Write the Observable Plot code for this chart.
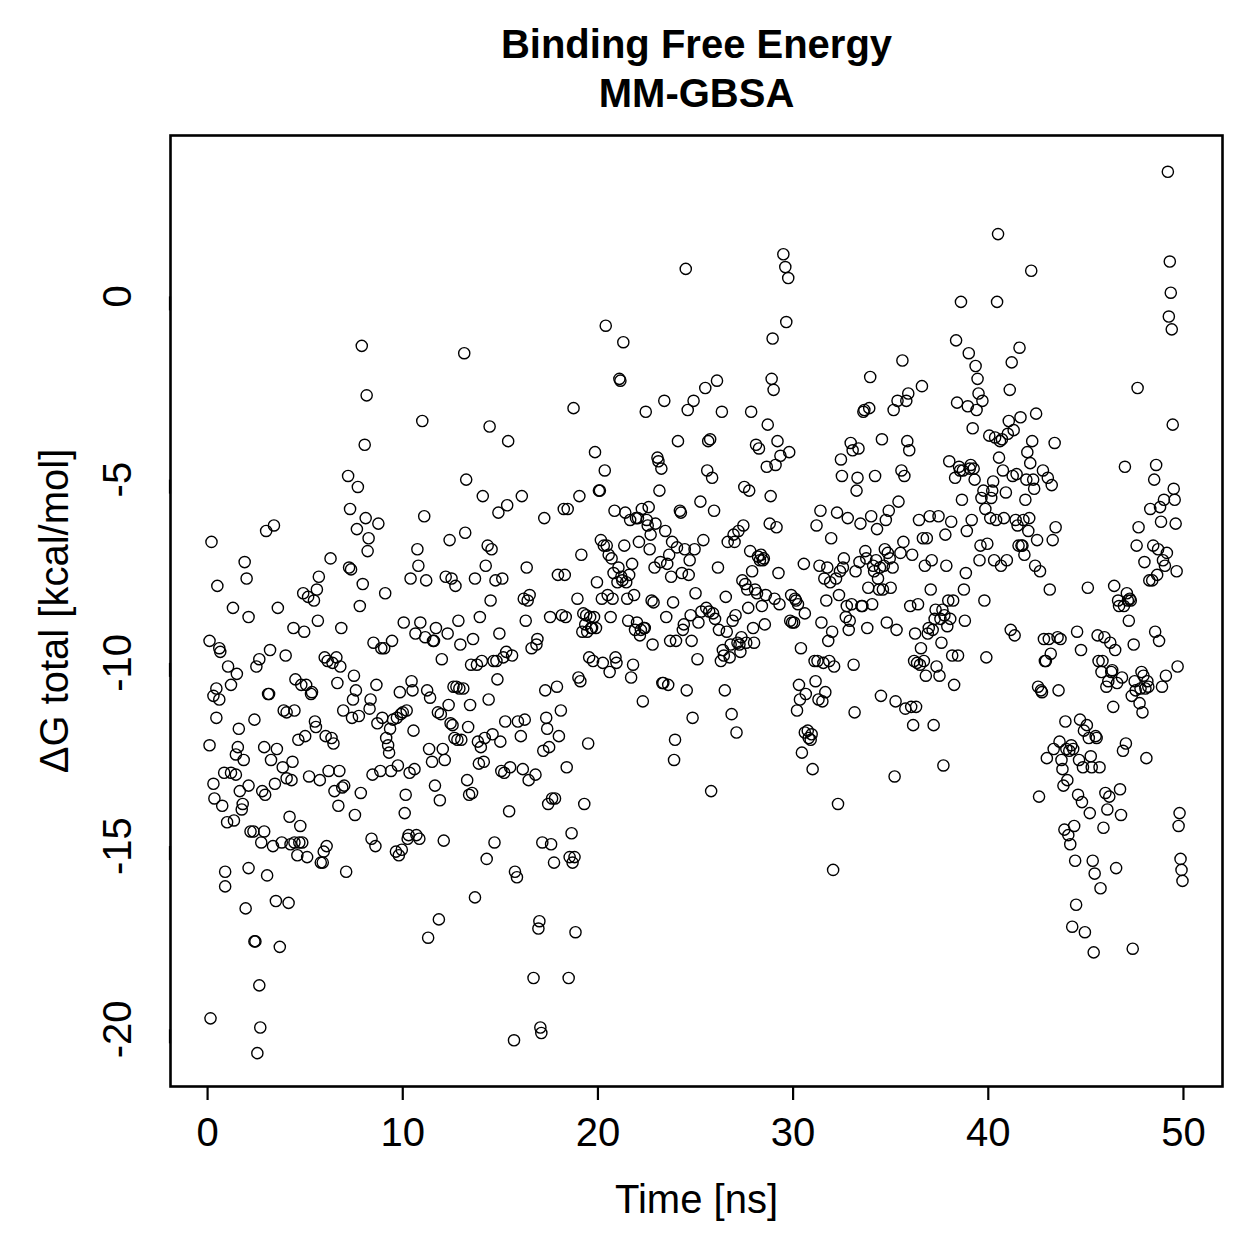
<!DOCTYPE html>
<html>
<head>
<meta charset="utf-8">
<script src="https://cdn.jsdelivr.net/npm/d3@7"></script>
<script src="https://cdn.jsdelivr.net/npm/@observablehq/plot@0.6"></script>
<style>
  html, body { margin: 0; padding: 0; background: #ffffff; }
  #chart { width: 1259px; height: 1259px; }
</style>
</head>
<body>
<div id="chart"></div>
<script>
// MM-GBSA total binding free energy per snapshot: [time (ns), ΔG total (kcal/mol)]
const run0to10 = [
  [0.1,-9.4],[0.2,-6.7],[0.1,-12.25],[0.15,-19.7],[0.3,-10.9],[0.3,-13.3],[0.35,-13.7],[0.5,-7.9],[0.45,-10.7],[0.45,-11.5],
  [0.6,-9.6],[0.65,-9.7],[0.6,-11.0],[0.75,-13.9],[0.85,-13.0],[0.9,-15.7],[0.9,-16.1],[1.0,-14.35],[1.05,-10.1],[1.2,-10.6],
  [1.3,-8.5],[1.2,-13.0],[1.35,-14.3],[1.45,-12.5],[1.45,-13.05],[1.55,-12.3],[1.6,-11.8],[1.5,-10.3],[1.65,-13.5],[1.75,-14.0],
  [1.8,-13.85],[1.85,-12.65],[1.9,-7.25],[1.95,-16.7],[2.0,-7.7],[2.1,-8.75],[2.1,-15.6],[2.1,-13.35],[2.2,-14.6],[2.35,-14.6],
  [2.4,-17.6],[2.45,-17.6],[2.4,-11.55],[2.5,-10.1],[2.55,-20.65],[2.65,-18.8],[2.7,-19.95],[2.65,-9.9],[2.75,-14.9],[2.8,-13.5],
  [2.9,-12.3],[2.95,-13.6],[2.9,-14.6],[3.0,-6.4],[3.05,-15.8],[3.1,-10.85],[3.15,-10.85],[3.2,-9.65],[3.25,-12.65],[3.35,-15.0],
  [3.4,-6.25],[3.45,-13.3],[3.5,-16.5],[3.55,-12.35],[3.6,-8.5],[3.7,-17.75],[3.8,-14.9],[3.85,-12.85],[3.9,-11.3],[4.0,-9.8],
  [4.05,-11.35],[4.05,-13.15],[4.15,-16.55],[4.2,-14.2],[4.25,-14.95],[4.3,-13.2],[4.35,-12.7],[4.4,-9.05],[4.45,-14.9],[4.45,-11.3],
  [4.5,-10.45],[4.6,-15.25],[4.65,-12.1],[4.7,-14.9],[4.75,-14.45],[4.8,-10.6],[4.85,-14.9],[4.9,-8.1],[4.95,-9.15],[5.0,-12.0],
  [5.05,-10.6],[5.1,-15.3],[5.15,-8.2],[5.2,-13.1],[5.3,-10.85],[5.35,-10.8],[5.45,-8.3],[5.5,-11.6],[5.55,-11.75],[5.6,-8.0],
  [5.65,-8.85],[5.7,-7.65],[5.75,-13.2],[5.8,-15.45],[5.9,-15.45],[5.95,-15.15],[6.0,-9.85],[6.05,-12.0],[6.1,-15.0],[6.15,-9.95],
  [6.2,-12.95],[6.3,-7.15],[6.35,-12.05],[6.4,-10.0],[6.45,-12.2],[6.5,-13.5],[6.6,-9.85],[6.65,-10.55],[6.7,-13.9],[6.75,-12.95],
  [6.8,-10.1],[6.85,-9.05],[6.9,-13.4],[6.95,-11.3],[7.0,-13.35],[7.1,-15.7],[7.2,-4.9],[7.25,-7.4],[7.3,-5.8],[7.35,-7.45],
  [7.4,-11.5],[7.45,-11.0],[7.5,-10.35],[7.55,-14.15],[7.6,-10.75],[7.65,-6.35],[7.7,-5.2],[7.75,-11.45],[7.8,-8.45],[7.85,-13.55],
  [7.9,-1.35],[7.95,-7.85],[8.05,-4.05],[8.1,-6.05],[8.15,-2.7],[8.2,-6.95],[8.25,-6.6],[8.3,-11.25],[8.35,-11.0],[8.4,-14.8],
  [8.45,-13.05],[8.5,-9.45],[8.6,-15.0],[8.65,-10.6],[8.7,-11.65],[8.75,-6.2],[8.85,-12.95],[8.9,-9.6],[8.95,-11.5],[9.05,-9.6],
  [9.1,-8.1],[9.15,-12.05],[9.25,-12.25],[9.3,-12.45],[9.35,-11.8],[9.4,-12.95],[9.45,-9.4],[9.5,-11.55],[9.65,-15.15],[9.7,-11.5],
  [9.75,-12.8],[9.8,-15.25],[9.85,-10.8],[9.9,-11.4],[9.95,-15.1]
];
const run10to20 = [
  [10.0,-11.35],[10.05,-8.9],[10.1,-14.1],[10.15,-13.6],[10.2,-11.3],[10.25,-14.8],[10.3,-14.7],[10.35,-13.0],[10.4,-7.7],[10.45,-10.5],
  [10.5,-10.75],[10.55,-11.85],[10.6,-12.9],[10.65,-9.2],[10.7,-14.7],[10.75,-6.9],[10.8,-7.35],[10.85,-14.8],[10.9,-8.9],[11.0,-3.4],
  [11.1,-6.0],[11.15,-9.3],[11.2,-7.75],[11.25,-10.75],[11.3,-17.5],[11.35,-12.35],[11.4,-10.95],[11.5,-12.7],[11.55,-9.4],[11.6,-9.4],
  [11.65,-13.35],[11.7,-9.05],[11.8,-11.35],[11.85,-17.0],[11.9,-13.75],[11.95,-11.4],[12.0,-9.9],[12.05,-12.35],[12.1,-14.85],[12.15,-12.65],
  [12.2,-7.65],[12.3,-9.2],[12.35,-11.15],[12.4,-6.65],[12.45,-11.65],[12.5,-7.7],[12.55,-11.7],[12.6,-10.65],[12.65,-12.05],[12.7,-7.9],
  [12.75,-10.65],[12.8,-12.1],[12.85,-8.85],[12.9,-10.7],[12.95,-9.5],[13.0,-12.1],[13.1,-10.7],[13.15,-1.55],[13.2,-6.45],[13.25,-5.0],
  [13.3,-13.2],[13.35,-11.75],[13.4,-13.6],[13.45,-11.15],[13.5,-10.05],[13.55,-13.55],[13.6,-9.35],[13.7,-16.4],[13.7,-7.7],[13.8,-10.05],
  [13.85,-12.15],[13.9,-12.75],[13.95,-8.75],[14.0,-12.3],[14.05,-9.95],[14.1,-5.45],[14.15,-12.7],[14.2,-12.05],[14.25,-7.35],[14.3,-15.35],
  [14.35,-6.8],[14.4,-11.0],[14.45,-3.55],[14.5,-8.3],[14.55,-6.9],[14.6,-11.95],[14.65,-9.95],[14.7,-14.9],[14.75,-7.75],[14.8,-9.95],
  [14.85,-10.45],[14.9,-5.9],[14.95,-9.2],[15.0,-12.15],[15.05,-12.95],[15.1,-7.7],[15.15,-9.85],[15.2,-13.0],[15.25,-11.6],[15.3,-9.7],
  [15.35,-5.7],[15.4,-3.95],[15.45,-14.05],[15.5,-12.85],[15.6,-9.8],[15.7,-20.3],[15.75,-15.7],[15.85,-15.85],[15.9,-11.6],[16.05,-12.0],
  [16.1,-5.45],[16.15,-12.9],[16.2,-8.25],[16.25,-11.55],[16.3,-8.85],[16.35,-7.4],[16.4,-8.3],[16.45,-13.2],[16.5,-8.15],[16.6,-9.6],
  [16.7,-18.6],[16.8,-13.05],[16.85,-9.5],[16.9,-9.35],[16.95,-17.25],[17.0,-17.05],[17.05,-19.95],[17.1,-20.1],[17.15,-14.9],[17.2,-12.4],
  [17.25,-6.05],[17.3,-10.75],[17.35,-11.5],[17.4,-11.8],[17.45,-13.85],[17.5,-12.3],[17.55,-8.75],[17.6,-14.95],[17.65,-13.7],[17.75,-15.45],
  [17.8,-13.7],[17.9,-10.65],[17.95,-7.6],[18.0,-12.0],[18.1,-11.3],[18.15,-8.7],[18.25,-5.8],[18.3,-7.6],[18.35,-8.75],[18.4,-12.85],
  [18.45,-5.8],[18.5,-18.6],[18.55,-15.3],[18.65,-14.65],[18.7,-15.45],[18.75,-3.05],[18.8,-15.3],[18.85,-17.35],[18.95,-8.25],[19.0,-10.4],
  [19.05,-5.45],[19.1,-10.5],[19.15,-7.05],[19.2,-9.15],[19.25,-8.65],[19.3,-13.85],[19.35,-8.95],[19.4,-8.7],[19.45,-9.15],[19.5,-12.2],
  [19.55,-9.85],[19.6,-8.75],[19.65,-9.05],[19.7,-9.05],[19.75,-9.95],[19.8,-8.75],[19.85,-4.25],[19.9,-9.05],[19.95,-7.8]
];
const run20to30 = [
  [20.05,-5.3],[20.1,-5.3],[20.15,-6.65],[20.2,-8.25],[20.25,-10.0],[20.3,-6.8],[20.35,-4.75],[20.4,-0.8],[20.45,-6.8],[20.5,-8.15],
  [20.55,-7.05],[20.6,-10.25],[20.65,-8.75],[20.7,-7.15],[20.75,-8.25],[20.8,-7.55],[20.85,-5.85],[20.9,-9.85],[20.95,-10.0],[21.0,-7.8],
  [21.05,-7.4],[21.1,-2.25],[21.15,-2.3],[21.2,-7.65],[21.25,-7.75],[21.3,-1.25],[21.35,-6.8],[21.4,-5.9],[21.45,-7.8],[21.5,-8.25],
  [21.55,-8.85],[21.6,-7.6],[21.65,-6.1],[21.7,-10.4],[21.75,-7.3],[21.8,-10.05],[21.85,-8.15],[21.9,-9.1],[21.95,-6.05],[22.0,-8.9],
  [22.05,-6.05],[22.1,-6.7],[22.15,-9.25],[22.2,-9.1],[22.25,-5.8],[22.3,-11.05],[22.35,-9.05],[22.4,-9.05],[22.45,-3.15],[22.5,-6.1],
  [22.55,-6.25],[22.6,-5.75],[22.65,-6.9],[22.7,-6.5],[22.75,-8.3],[22.8,-9.5],[22.85,-8.35],[22.9,-7.4],[22.95,-6.2],[23.05,-4.4],
  [23.1,-4.5],[23.15,-5.3],[23.2,-7.25],[23.25,-4.7],[23.3,-10.55],[23.35,-10.55],[23.4,-2.85],[23.45,-6.4],[23.5,-8.75],[23.55,-7.3],
  [23.6,-10.6],[23.65,-7.05],[23.7,-9.4],[23.75,-7.65],[23.8,-6.7],[23.85,-8.35],[23.9,-12.65],[23.95,-12.1],[24.0,-9.4],[24.05,-6.85],
  [24.1,-3.95],[24.2,-5.85],[24.25,-5.9],[24.3,-7.55],[24.35,-9.1],[24.4,-8.95],[24.45,-6.9],[24.5,0.75],[24.55,-10.75],[24.6,-3.1],
  [24.65,-7.6],[24.7,-7.2],[24.75,-8.7],[24.8,-9.4],[24.85,-11.5],[24.9,-2.85],[24.95,-6.9],[25.0,-8.1],[25.1,-9.9],[25.15,-8.9],
  [25.25,-5.6],[25.3,-8.6],[25.4,-6.65],[25.5,-2.5],[25.55,-8.5],[25.6,-4.75],[25.65,-3.95],[25.7,-8.6],[25.75,-3.9],[25.8,-13.5],
  [25.85,-4.95],[25.9,-8.65],[25.95,-5.85],[26.0,-8.8],[26.1,-2.3],[26.15,-7.4],[26.2,-9.1],[26.3,-9.95],[26.35,-3.15],[26.4,-9.65],
  [26.45,-9.8],[26.5,-10.75],[26.55,-8.2],[26.6,-9.15],[26.65,-6.7],[26.75,-9.85],[26.8,-9.5],[26.85,-11.4],[26.9,-8.85],[26.95,-6.5],
  [27.0,-6.7],[27.05,-8.7],[27.1,-11.9],[27.15,-9.45],[27.2,-6.4],[27.25,-9.5],[27.3,-9.7],[27.35,-9.3],[27.4,-7.75],[27.45,-6.25],
  [27.5,-5.2],[27.55,-7.85],[27.6,-9.45],[27.65,-8.0],[27.7,-8.5],[27.75,-5.3],[27.8,-6.95],[27.85,-3.15],[27.9,-7.5],[27.95,-9.05],
  [28.0,-9.45],[28.05,-8.0],[28.1,-4.05],[28.15,-8.1],[28.2,-7.1],[28.25,-4.15],[28.3,-7.2],[28.35,-7.05],[28.4,-8.45],[28.45,-7.2],
  [28.5,-7.15],[28.55,-8.95],[28.6,-8.15],[28.65,-4.65],[28.7,-3.5],[28.8,-6.2],[28.85,-5.45],[28.9,-2.25],[28.95,-1.15],[29.0,-2.55],
  [29.05,-8.25],[29.1,-4.6],[29.15,-6.3],[29.2,-3.95],[29.25,-7.55],[29.3,-8.4],[29.35,-4.35],[29.5,1.15],[29.6,0.8],[29.65,-0.7],
  [29.75,0.5],[29.8,-4.25],[29.85,-8.85],[29.9,-8.15],[29.95,-8.9]
];
const run30to40 = [
  [30.05,-8.9],[30.1,-8.25],[30.15,-8.3],[30.2,-11.3],[30.25,-8.4],[30.3,-10.6],[30.35,-11.0],[30.4,-9.6],[30.45,-12.45],[30.55,-7.3],
  [30.6,-8.65],[30.6,-11.9],[30.65,-10.85],[30.75,-11.85],[30.8,-12.05],[30.9,-12.1],[30.95,-11.95],[31.0,-12.9],[31.1,-9.95],[31.15,-10.5],
  [31.2,-6.25],[31.25,-9.95],[31.3,-11.0],[31.35,-7.35],[31.4,-5.85],[31.45,-8.9],[31.5,-11.05],[31.55,-10.0],[31.6,-7.7],[31.65,-10.8],
  [31.7,-8.3],[31.75,-7.4],[31.8,-9.4],[31.85,-9.95],[31.9,-7.8],[31.95,-6.6],[32.0,-9.15],[32.05,-15.65],[32.1,-10.1],[32.2,-7.7],
  [32.25,-5.9],[32.3,-13.85],[32.35,-8.15],[32.4,-7.5],[32.45,-4.45],[32.5,-4.9],[32.55,-7.4],[32.6,-7.15],[32.7,-8.75],[32.75,-8.45],
  [32.8,-6.05],[32.85,-9.1],[32.9,-8.85],[32.95,-4.0],[33.0,-8.4],[33.05,-4.2],[33.1,-10.05],[33.15,-11.35],[33.2,-7.5],[33.25,-5.3],
  [33.3,-4.95],[33.35,-4.15],[33.4,-7.25],[33.45,-6.2],[33.5,-8.45],[33.55,-8.45],[33.6,-3.15],[33.65,-3.1],[33.7,-6.95],[33.75,-7.15],
  [33.8,-9.05],[33.85,-7.95],[33.9,-3.05],[33.95,-2.2],[34.0,-6.0],[34.05,-8.4],[34.1,-7.35],[34.15,-7.5],[34.2,-4.9],[34.25,-7.2],
  [34.3,-6.35],[34.35,-7.7],[34.4,-8.0],[34.45,-7.4],[34.5,-10.9],[34.55,-3.9],[34.6,-8.0],[34.65,-7.35],[34.7,-6.9],[34.75,-6.1],
  [34.8,-8.9],[34.85,-7.0],[34.9,-5.85],[34.95,-7.15],[35.0,-7.95],[35.1,-7.4],[35.15,-3.1],[35.2,-13.1],[35.25,-11.05],[35.3,-9.1],
  [35.35,-2.85],[35.4,-5.6],[35.5,-7.0],[35.55,-4.75],[35.6,-1.75],[35.65,-6.7],[35.7,-4.9],[35.75,-11.25],[35.8,-2.85],[35.85,-3.95],
  [35.9,-2.65],[35.95,-4.2],[36.0,-8.45],[36.05,-11.2],[36.1,-7.05],[36.15,-11.7],[36.2,-9.95],[36.25,-9.2],[36.3,-11.2],[36.35,-10.0],
  [36.4,-8.4],[36.45,-6.1],[36.5,-10.05],[36.55,-9.6],[36.6,-2.45],[36.65,-6.6],[36.7,-9.95],[36.75,-7.35],[36.8,-10.35],[36.85,-6.6],
  [36.9,-9.2],[36.95,-9.05],[37.0,-6.0],[37.05,-8.0],[37.1,-7.2],[37.15,-9.1],[37.2,-11.7],[37.25,-8.8],[37.3,-8.55],[37.35,-10.1],
  [37.45,-6.0],[37.5,-10.35],[37.55,-8.8],[37.6,-9.45],[37.65,-8.55],[37.7,-12.8],[37.75,-8.7],[37.8,-6.5],[37.85,-7.35],[37.9,-9.0],
  [37.95,-8.3],[38.0,-4.5],[38.05,-8.8],[38.1,-6.15],[38.15,-9.8],[38.2,-8.3],[38.25,-10.6],[38.3,-4.95],[38.35,-1.2],[38.4,-2.9],
  [38.45,-9.8],[38.5,-4.65],[38.55,-4.75],[38.6,-0.15],[38.65,-5.55],[38.7,-4.75],[38.75,-8.0],[38.8,-8.85],[38.85,-7.55],[38.9,-6.4],
  [38.95,-3.0],[39.0,-1.55],[39.05,-4.7],[39.1,-4.6],[39.15,-6.1],[39.2,-3.6],[39.25,-4.7],[39.3,-5.0],[39.35,-1.9],[39.4,-3.1],
  [39.45,-2.25],[39.5,-2.65],[39.55,-7.2],[39.6,-6.8],[39.65,-5.5],[39.7,-2.85],[39.75,-5.3],[39.8,-8.3],[39.85,-5.8],[39.9,-9.85],
  [39.95,-6.75]
];
const run40to50 = [
  [40.05,-3.8],[40.1,-6.05],[40.15,-5.5],[40.2,-5.3],[40.25,-5.05],[40.3,-7.2],[40.35,-3.85],[40.4,-6.1],[40.45,-0.15],[40.5,1.7],
  [40.55,-4.4],[40.6,-3.95],[40.65,-7.35],[40.7,-3.9],[40.75,-4.75],[40.8,-6.05],[40.9,-5.35],[40.95,-7.2],[41.0,-3.75],[41.05,-3.4],
  [41.1,-2.55],[41.15,-9.1],[41.2,-1.8],[41.25,-4.9],[41.3,-3.65],[41.35,-9.25],[41.4,-6.1],[41.45,-4.85],[41.5,-6.25],[41.55,-6.8],
  [41.6,-1.4],[41.65,-3.3],[41.7,-6.8],[41.75,-6.8],[41.8,-6.1],[41.85,-7.05],[41.9,-5.55],[41.95,-5.0],[42.0,-4.25],[42.05,-6.4],
  [42.1,-6.05],[42.15,-4.55],[42.2,0.7],[42.25,-3.95],[42.3,-5.0],[42.35,-5.25],[42.4,-7.35],[42.45,-3.2],[42.5,-6.65],[42.55,-10.65],
  [42.6,-13.65],[42.65,-7.5],[42.7,-10.75],[42.75,-10.8],[42.8,-4.75],[42.85,-9.35],[42.9,-9.95],[42.95,-9.95],[43.0,-12.6],[43.05,-4.95],
  [43.1,-9.35],[43.15,-8.0],[43.2,-9.75],[43.25,-5.15],[43.3,-6.65],[43.35,-12.35],[43.4,-4.0],[43.45,-6.3],[43.55,-9.3],[43.6,-10.75],
  [43.65,-12.15],[43.7,-9.35],[43.75,-12.65],[43.8,-12.9],[43.85,-13.35],[43.9,-14.55],[43.95,-11.6],[44.0,-12.35],[44.05,-13.2],[44.1,-14.7],
  [44.15,-12.4],[44.2,-14.95],[44.25,-12.25],[44.3,-17.2],[44.35,-12.35],[44.4,-14.45],[44.45,-15.4],[44.5,-16.6],[44.55,-9.15],[44.6,-13.6],
  [44.65,-12.65],[44.7,-11.55],[44.75,-9.65],[44.8,-13.8],[44.85,-12.85],[44.9,-11.85],[44.95,-17.35],[45.05,-11.7],[45.1,-7.95],[45.15,-12.05],
  [45.2,-14.1],[45.25,-12.55],[45.3,-12.85],[45.35,-15.4],[45.4,-17.9],[45.45,-15.75],[45.5,-12.0],[45.55,-12.05],[45.6,-9.25],[45.65,-9.95],
  [45.7,-12.85],[45.75,-16.15],[45.8,-10.25],[45.85,-9.95],[45.9,-14.5],[45.95,-9.3],[46.0,-13.55],[46.05,-10.65],[46.1,-14.0],[46.15,-10.5],
  [46.2,-13.65],[46.25,-9.45],[46.3,-10.25],[46.35,-10.2],[46.4,-11.2],[46.45,-7.9],[46.5,-9.65],[46.55,-15.6],[46.6,-10.55],[46.65,-8.3],
  [46.7,-8.45],[46.75,-13.45],[46.8,-14.15],[46.85,-10.4],[46.9,-12.4],[46.95,-8.45],[47.0,-4.65],[47.05,-12.2],[47.1,-8.1],[47.15,-8.3],
  [47.2,-8.85],[47.25,-8.25],[47.3,-8.3],[47.35,-10.9],[47.4,-17.8],[47.45,-9.5],[47.5,-10.5],[47.55,-10.75],[47.6,-6.8],[47.65,-2.5],
  [47.7,-6.3],[47.75,-11.1],[47.8,-10.7],[47.85,-10.25],[47.9,-11.35],[47.95,-10.35],[48.0,-7.25],[48.05,-10.7],[48.1,-12.6],[48.15,-10.5],
  [48.2,-10.65],[48.25,-7.75],[48.3,-5.8],[48.4,-7.75],[48.45,-6.8],[48.5,-5.0],[48.55,-9.15],[48.6,-4.6],[48.65,-7.6],[48.7,-6.9],
  [48.75,-9.4],[48.8,-5.75],[48.85,-6.15],[48.9,-10.65],[48.95,-7.2],[49.0,-5.55],[49.05,-7.35],[49.1,-10.35],[49.15,-7.0],[49.2,3.4],
  [49.25,-0.55],[49.3,0.95],[49.35,0.1],[49.4,-0.9],[49.45,-3.5],[49.5,-5.25],[49.55,-5.55],[49.6,-6.2],[49.65,-7.5],[49.7,-10.1],
  [49.75,-14.45],[49.8,-14.1],[49.85,-15.35],[49.9,-15.65],[49.95,-15.95]
];

const xTicks = [0, 10, 20, 30, 40, 50];
const yTicks = [-20, -15, -10, -5, 0];
const titleLines = ["Binding Free Energy", "MM-GBSA"];
const xLabel = "Time [ns]";
const yLabel = "ΔG total [kcal/mol]";

const snapshots = [...run0to10, ...run10to20, ...run20to30, ...run30to40, ...run40to50]
  .map(([time, dg]) => ({time, dg}));

const font = "'Liberation Sans', Arial, Helvetica, sans-serif";

const chart = Plot.plot({
  width: 1259,
  height: 1259,
  marginLeft: 170,
  marginRight: 37,
  marginTop: 135,
  marginBottom: 173,
  style: {fontFamily: font, background: "#ffffff", color: "#000000", overflow: "visible"},
  x: {domain: [-1.9, 52.0]},
  y: {domain: [-21.56, 4.39]},
  marks: [
    Plot.dot(snapshots, {x: "time", y: "dg", r: 5.6, stroke: "#000000", strokeWidth: 1.4, fill: "none"}),
    Plot.frame({stroke: "#000000", strokeWidth: 2.6}),
    Plot.axisX({ticks: xTicks, tickFormat: d => String(d), tickSize: 14, tickPadding: 17,
      fontSize: 40, strokeWidth: 2.2, label: null}),
    Plot.axisY({ticks: yTicks, tickFormat: d => String(d), tickSize: 14, tickPadding: 38,
      fontSize: 40, strokeWidth: 2.2, rotate: -90, textAnchor: "middle", label: null}),
    // two-line bold title, centred over the plotting frame
    Plot.text([titleLines[0]], {text: d => d, frameAnchor: "top", dy: -90,
      textAnchor: "middle", lineAnchor: "middle", fontSize: 40, fontWeight: "bold"}),
    Plot.text([titleLines[1]], {text: d => d, frameAnchor: "top", dy: -41,
      textAnchor: "middle", lineAnchor: "middle", fontSize: 40, fontWeight: "bold"}),
    // axis titles
    Plot.text([xLabel], {text: d => d, frameAnchor: "bottom", dy: 114,
      textAnchor: "middle", lineAnchor: "middle", fontSize: 40}),
    Plot.text([yLabel], {text: d => d, frameAnchor: "left", dx: -115, rotate: -90,
      textAnchor: "middle", lineAnchor: "middle", fontSize: 40})
  ]
});

document.getElementById("chart").appendChild(chart);
</script>
</body>
</html>
